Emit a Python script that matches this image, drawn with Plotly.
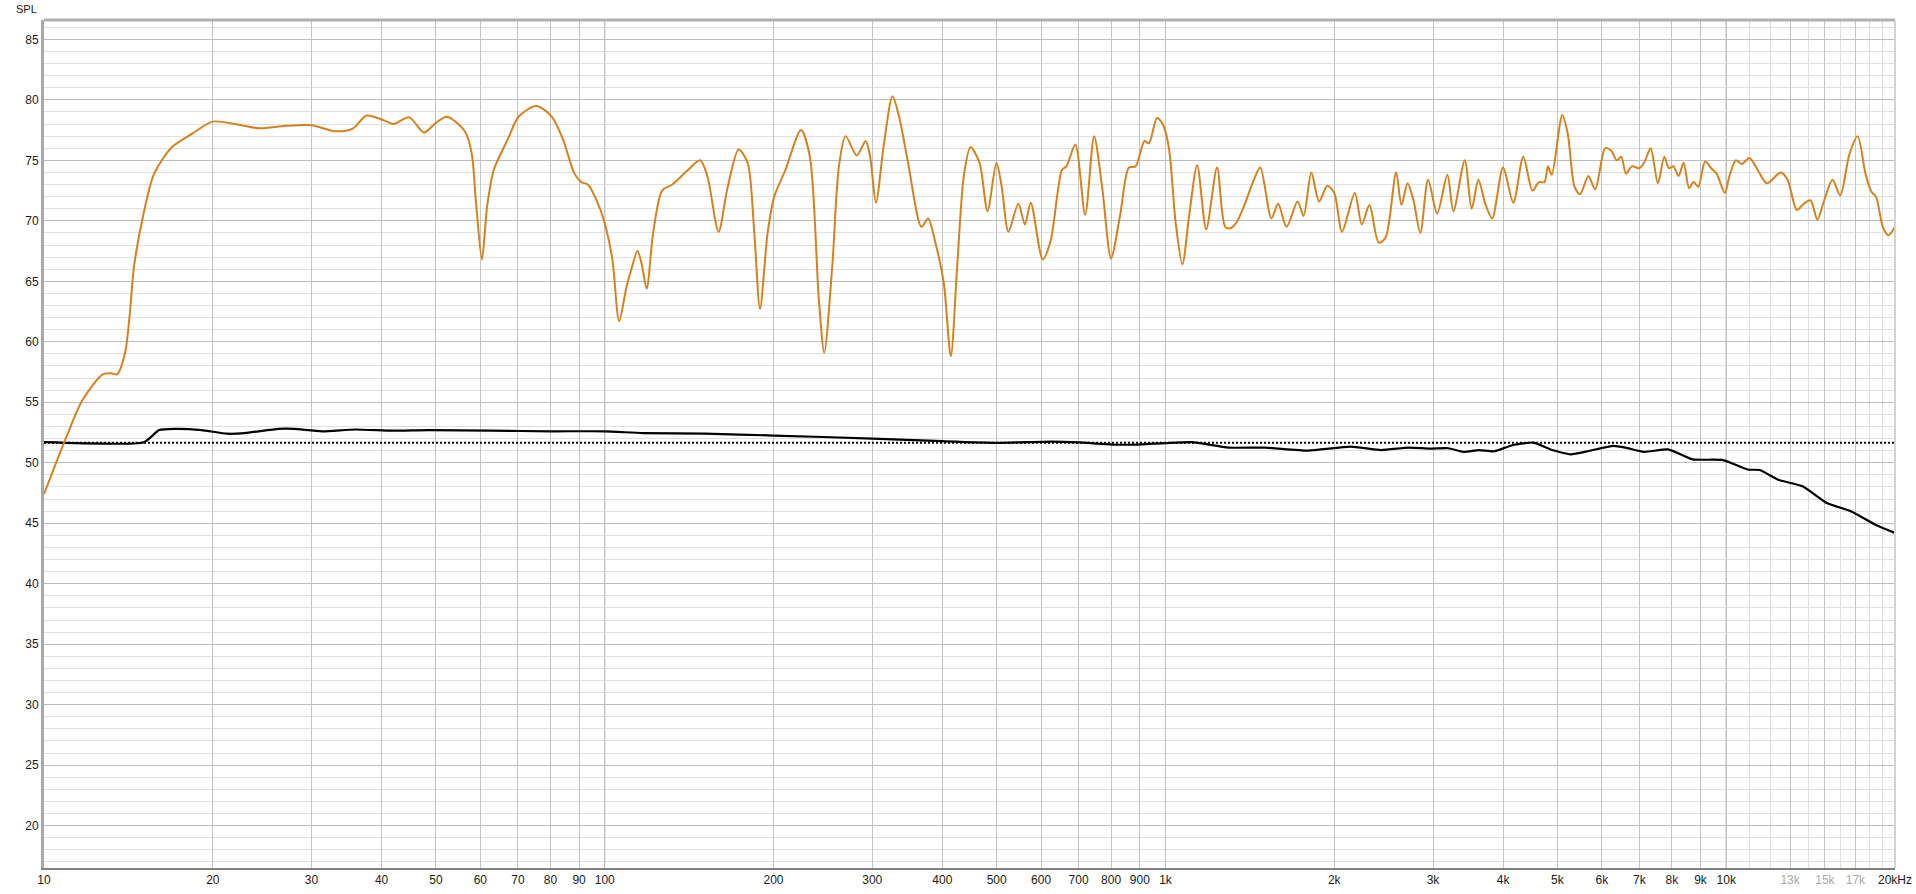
import plotly.graph_objects as go

# ---------------- data ----------------
spl_freq = [10, 11.0, 11.72, 12.73, 13.2, 13.5, 13.95, 14.21, 14.47, 15.02, 15.72, 16.92, 18.38,
            20, 22.5, 24.2, 27, 30, 33.1, 35.6, 37.6, 40.4, 42, 44.8, 47.6, 50, 52.3, 56.3,
            57.9, 58.9, 60.4, 61.7, 63.4, 67.1, 70.2, 75.5, 80.5, 84.3, 88.3, 90.8, 93.3,
            97.7, 100.4, 103.2, 106.1, 109.3, 111.1, 114.4, 116.3, 118.8, 122, 126.6, 132,
            140.7, 148, 152.4, 159.6, 165.5, 173.3, 179.8, 184.8, 189.2, 195.2, 200.6, 210,
            223.9, 232.2, 240.9, 246.3, 254.5, 261.6, 268.9, 281.5, 292, 297.4, 304.6, 314.2,
            326, 335, 347.5, 367.1, 377.3, 387.8, 402.3, 414.2, 425.1, 436.9, 449.1, 466,
            481.6, 499.5, 510.5, 524.8, 546.4, 561.6, 575.1, 604.1, 624.4, 653.7, 665.8,
            690.7, 719.1, 746, 770.9, 799.8, 829.7, 860.6, 884.5, 917.5, 934.5, 965.8, 991,
            1015, 1043, 1072, 1102, 1139, 1182, 1236, 1278, 1308, 1340, 1380, 1438, 1476,
            1545, 1588, 1645, 1720, 1763, 1820, 1879, 1944, 2000, 2065, 2176, 2239, 2311,
            2400, 2469, 2578, 2636, 2702, 2769, 2848, 2940, 3052, 3182, 3262, 3418, 3516,
            3615, 3719, 3825, 4000, 4172, 4346, 4514, 4634, 4740, 4811, 4885, 5101, 5217,
            5366, 5489, 5678, 5840, 6086, 6237, 6380, 6500, 6625, 6789, 7000, 7141, 7332,
            7555, 7757, 7904, 8054, 8223, 8395, 8587, 8750, 8916, 9170, 9400, 9614, 9945,
            10133, 10402, 10660, 11005, 11384, 11821, 12512, 12868, 13362, 13743, 14136,
            14540, 14957, 15472, 15973, 16585, 17156, 17715, 18153, 18498, 19024, 19459, 20000]
spl_db = [47.4, 52.3, 55.2, 57.3, 57.4, 57.3, 59.1, 62.1, 66.2, 70.4, 73.9, 76.1, 77.2,
          78.2, 77.9, 77.65, 77.85, 77.9, 77.4, 77.65, 78.7, 78.3, 78.0, 78.55, 77.3, 78.1, 78.6, 77.4,
          75.6, 71.7, 66.8, 71.2, 74.2, 76.7, 78.6, 79.5, 78.6, 76.7, 73.9, 73.2, 73.0,
          71.2, 69.5, 66.8, 61.7, 64.5, 65.7, 67.5, 66.5, 64.4, 69.0, 72.5, 73.0,
          74.2, 75.0, 73.7, 69.1, 72.7, 75.9, 74.8, 69.0, 62.7, 69.0, 72.0, 74.2,
          77.5, 75.3, 63.5, 59.1, 66.2, 74.5, 77.0, 75.4, 76.6, 75.3, 71.5, 76.1,
          80.3, 78.6, 74.8, 69.5, 70.2, 68.4, 64.9, 58.8, 66.2, 73.7, 76.1, 74.8,
          70.8, 74.8, 72.8, 69.1, 71.4, 69.7, 71.5, 66.8, 68.4, 74.2, 74.5,
          76.3, 70.5, 77.0, 72.8, 66.9, 70.4, 74.4, 74.5, 76.6, 76.4, 78.5, 77.9,
          75.9, 69.8, 66.4, 70.4, 74.6, 69.3, 74.4, 69.5, 69.4, 69.9, 71.2, 73.4, 74.4,
          70.2, 71.4, 69.5, 71.6, 70.4, 74.0, 71.6, 72.9, 72.3, 69.1, 72.3, 69.7, 71.3,
          68.2, 68.6, 74.0, 71.3, 73.1, 71.7, 69.0, 73.4, 70.6, 73.8, 70.8, 75.0, 71.0,
          73.4, 71.4, 70.2, 74.4, 71.5, 75.3, 72.5, 73.2, 73.2, 74.5, 73.8, 78.75, 77.2,
          72.8, 72.2, 73.7, 72.6, 76.0, 75.8, 75.0, 75.3, 73.9, 74.5, 74.35, 74.8, 76.0,
          73.1, 75.3, 74.35, 74.5, 73.7, 74.8, 72.7, 73.2, 72.8, 74.9, 74.35, 73.9, 72.3,
          73.7, 75.0, 74.7, 75.2, 74.2, 73.1, 74.0, 73.4, 70.9, 71.4, 71.7,
          70.1, 71.7, 73.4, 72.1, 75.5, 77.0, 73.9, 72.4, 72.0, 69.5, 68.8, 69.5]

avg_freq = [10, 15.07, 16.05, 17.1, 19.1, 21.2, 22.8, 26.2, 27.9, 31.3, 35.9, 41.8, 48.6, 62.5,
            80.3, 100, 117, 150.7, 200, 300, 400, 500, 626, 700, 804, 888, 1000, 1114, 1295,
            1505, 1794, 2138, 2424, 2714, 2964, 3194, 3401, 3622, 3855, 4156, 4538, 4893,
            5276, 5687, 6287, 6613, 7127, 7879, 8712, 9876, 10917, 11480, 12380, 13685,
            15120, 16723, 18490, 20000]
avg_db = [51.7, 51.7, 52.7, 52.8, 52.7, 52.4, 52.45, 52.8, 52.8, 52.6, 52.75, 52.65, 52.7, 52.65,
          52.6, 52.6, 52.45, 52.4, 52.25, 52.0, 51.78, 51.65, 51.75, 51.68, 51.5, 51.5, 51.62, 51.7, 51.25,
          51.25, 51.0, 51.33, 51.05, 51.25, 51.17, 51.2, 50.9, 51.05, 50.95, 51.45, 51.67, 51.05,
          50.7, 50.97, 51.4, 51.25, 50.9, 51.1, 50.28, 50.22, 49.44, 49.4, 48.6, 48.05,
          46.67, 45.97, 44.86, 44.2]

reference_level = 51.65
freq_range = [10, 20000]

x_tick_vals = [10, 20, 30, 40, 50, 60, 70, 80, 90,
               100, 200, 300, 400, 500, 600, 700, 800, 900,
               1000, 2000, 3000, 4000, 5000, 6000, 7000, 8000, 9000,
               10000, 13000, 15000, 17000, 20000]
x_tick_text = ["10", "20", "30", "40", "50", "60", "70", "80", "90",
               "100", "200", "300", "400", "500", "600", "700", "800", "900",
               "1k", "2k", "3k", "4k", "5k", "6k", "7k", "8k", "9k",
               "10k", '<span style="color:#a8a8a8">13k</span>',
               '<span style="color:#a8a8a8">15k</span>',
               '<span style="color:#a8a8a8">17k</span>', "20kHz"]
x_minor_vals = [11000, 12000, 14000, 16000, 18000, 19000]
decade_lines = [100, 1000, 10000]
y_tick_vals = [20, 25, 30, 35, 40, 45, 50, 55, 60, 65, 70, 75, 80, 85]

# ---------------- figure ----------------
fig = go.Figure()

fig.add_trace(go.Scatter(
    x=freq_range, y=[reference_level, reference_level], mode="lines",
    line=dict(color="#000000", width=2, dash="2px,2px"), hoverinfo="skip", showlegend=False))

fig.add_trace(go.Scatter(
    x=avg_freq, y=avg_db, mode="lines",
    line=dict(color="#000000", width=2.2, shape="spline", smoothing=0.5), showlegend=False))

fig.add_trace(go.Scatter(
    x=spl_freq, y=spl_db, mode="lines",
    line=dict(color="#d3821f", width=2, shape="spline", smoothing=0.8), showlegend=False))

shapes = []
for d in decade_lines:
    shapes.append(dict(type="line", xref="x", yref="paper", x0=d, x1=d, y0=0, y1=1,
                       line=dict(color="#8a8a8a", width=1), layer="below"))
# frame: top and right edges
shapes.append(dict(type="line", xref="paper", yref="paper", x0=0, x1=1, y0=1, y1=1,
                   line=dict(color="#b0b0b0", width=3), layer="above"))
shapes.append(dict(type="line", xref="paper", yref="paper", x0=1, x1=1, y0=0, y1=1,
                   line=dict(color="#d2d2d2", width=2), layer="above"))

fig.update_layout(
    width=1916, height=894,
    margin=dict(l=44, r=21, t=20, b=26, autoexpand=False),
    paper_bgcolor="#ffffff", plot_bgcolor="#ffffff",
    font=dict(family="Liberation Sans, Arial, sans-serif", size=12, color="#1a1a1a"),
    shapes=shapes,
    annotations=[dict(text="SPL", xref="paper", yref="paper", x=0, y=1,
                      xanchor="right", yanchor="bottom", xshift=-5, yshift=3,
                      showarrow=False, font=dict(size=11, color="#1a1a1a"))],
    xaxis=dict(
        type="log", range=[1, 4.30103], tickmode="array",
        tickvals=x_tick_vals, ticktext=x_tick_text, automargin=False,
        showgrid=True, gridcolor="#c4c4c4", gridwidth=1,
        minor=dict(tickmode="array", tickvals=x_minor_vals, showgrid=True,
                   gridcolor="#dedede", gridwidth=1, ticks=""),
        showline=True, linecolor="#7f7f7f", linewidth=2,
        ticks="", zeroline=False, tickfont=dict(size=12), fixedrange=True),
    yaxis=dict(
        range=[16.5, 86.6], tickmode="array", tickvals=y_tick_vals, automargin=False,
        showgrid=True, gridcolor="#bdbdbd", gridwidth=1,
        minor=dict(dtick=1, showgrid=True, gridcolor="#e0e0e0", gridwidth=1, ticks=""),
        showline=True, linecolor="#a8a8a8", linewidth=3,
        ticks="", zeroline=False, tickfont=dict(size=12), fixedrange=True),
)

fig.write_html("out.html", config={"displayModeBar": False},
               post_script="document.body.style.margin='0px';document.body.style.overflow='hidden';")
